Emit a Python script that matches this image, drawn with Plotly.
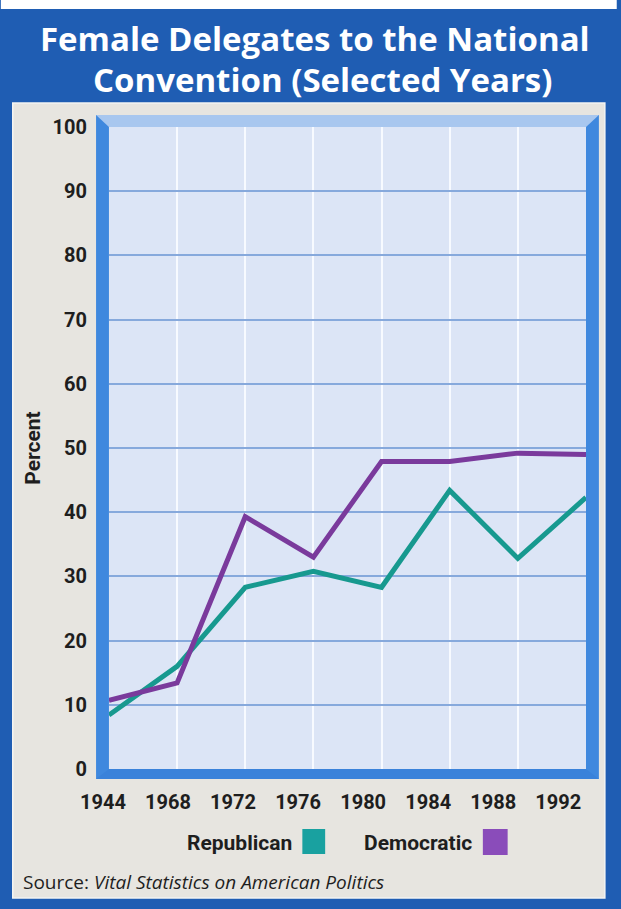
import plotly.graph_objects as go

years = ["1944", "1968", "1972", "1976", "1980", "1984", "1988", "1992"]
republican = [8.4, 16.0, 28.3, 30.8, 28.3, 43.4, 32.8, 42.3]
democratic = [10.7, 13.4, 39.3, 33.0, 47.9, 47.9, 49.2, 49.0]
y_ticks = list(range(0, 101, 10))

W, H = 621, 909
L, R, T, B = 103, 590, 127, 769  # paper area in pixels


def px(x):
    return (x - L) / (R - L)


def py(y):
    return (B - y) / (B - T)


FRAME = "#1f5db3"
PANEL = "#e7e5e0"
TEAL = "#17998f"
PURPLE = "#7a3a9c"
LABEL_FONT = "Roboto, Liberation Sans, sans-serif"
DARK = "#1e1e1e"

xi = list(range(len(years)))

fig = go.Figure()
fig.add_trace(go.Scatter(x=xi, y=republican, mode="lines", name="Republican",
                         line=dict(color=TEAL, width=5), showlegend=False))
fig.add_trace(go.Scatter(x=xi, y=democratic, mode="lines", name="Democratic",
                         line=dict(color=PURPLE, width=5), showlegend=False))
# invisible helper trace that carries the year-label axis
fig.add_trace(go.Scatter(x=xi, y=republican, xaxis="x2", yaxis="y2", mode="lines",
                         line=dict(width=0, color="rgba(0,0,0,0)"), hoverinfo="skip",
                         showlegend=False))

shapes = []
shapes.append(dict(type="rect", xref="paper", yref="paper", x0=px(0), x1=px(W), y0=py(0), y1=py(9),
                   fillcolor="#ffffff", line=dict(width=0), layer="below"))
shapes.append(dict(type="rect", xref="paper", yref="paper", x0=px(12), x1=px(609), y0=py(103), y1=py(898),
                   fillcolor=PANEL, line=dict(color="#f4f4f2", width=1.5), layer="below"))
shapes.append(dict(type="rect", xref="paper", yref="paper", x0=px(96), x1=px(603), y0=py(115), y1=py(779),
                   fillcolor="#3f88de", line=dict(width=0), layer="below"))


def path(pts):
    return "M " + " L ".join(f"{px(a)},{py(b)}" for a, b in pts) + " Z"


shapes.append(dict(type="path", xref="paper", yref="paper",
                   path=path([(96, 115), (603, 115), (590, 127), (109, 127)]),
                   fillcolor="#a8c7ef", line=dict(width=0), layer="below"))
shapes.append(dict(type="path", xref="paper", yref="paper",
                   path=path([(96, 779), (603, 779), (590, 769), (109, 769)]),
                   fillcolor="#3a82da", line=dict(width=0), layer="below"))
shapes.append(dict(type="rect", xref="paper", yref="paper", x0=px(109), x1=px(590), y0=py(127), y1=py(769),
                   fillcolor="#dce5f6", line=dict(width=0), layer="below"))
# legend squares
shapes.append(dict(type="rect", xref="paper", yref="paper", x0=px(304), x1=px(327), y0=py(829), y1=py(854),
                   fillcolor="#19a1a0", line=dict(width=0)))
shapes.append(dict(type="rect", xref="paper", yref="paper", x0=px(486), x1=px(511), y0=py(829), y1=py(855),
                   fillcolor="#8a4cba", line=dict(width=0)))

TITLE_FONT = dict(family="Open Sans, sans-serif", size=33, color="#ffffff", weight="bold")
annotations = [
    dict(text="Female Delegates to the National", xref="paper", yref="paper", x=px(317), y=py(39),
         xanchor="center", yanchor="middle", showarrow=False, font=TITLE_FONT),
    dict(text="Convention (Selected Years)", xref="paper", yref="paper", x=px(324), y=py(79),
         xanchor="center", yanchor="middle", showarrow=False, font=TITLE_FONT),
    dict(text="Republican", xref="paper", yref="paper", x=px(296), y=py(843), xanchor="right",
         yanchor="middle", showarrow=False, font=dict(family=LABEL_FONT, size=21, color=DARK, weight="bold")),
    dict(text="Democratic", xref="paper", yref="paper", x=px(477), y=py(843), xanchor="right",
         yanchor="middle", showarrow=False, font=dict(family=LABEL_FONT, size=21, color=DARK, weight="bold")),
    dict(text="Source: <i>Vital Statistics on American Politics</i>", xref="paper", yref="paper",
         x=px(20), y=py(882), xanchor="left", yanchor="middle", showarrow=False,
         font=dict(family="Open Sans, sans-serif", size=19, color=DARK)),
]

fig.update_layout(
    width=W, height=H,
    margin=dict(l=L, r=W - R, t=T, b=H - B, pad=0),
    paper_bgcolor=FRAME,
    plot_bgcolor="rgba(0,0,0,0)",
    xaxis=dict(domain=[px(109), 1], range=[0, len(years) - 1], showticklabels=False,
               tickvals=xi, showgrid=True, gridcolor="#f7faff", gridwidth=2.2,
               zeroline=False, showline=False, ticks=""),
    yaxis=dict(range=[0, 100], tickvals=y_ticks, showgrid=True, gridcolor="#86a9dc", gridwidth=1.5,
               zeroline=False, showline=False, ticks="outside", ticklen=17, tickcolor="rgba(0,0,0,0)",
               tickfont=dict(family=LABEL_FONT, size=20, color=DARK, weight="bold"),
               title=dict(text="Percent", standoff=6,
                          font=dict(family=LABEL_FONT, size=21, color=DARK, weight="bold"))),
    xaxis2=dict(domain=[0, px(562)], range=[0, len(years) - 1], anchor="y2",
                tickvals=xi, ticktext=years, showgrid=False, zeroline=False,
                showline=False, ticks="outside", ticklen=15, tickcolor="rgba(0,0,0,0)",
                tickfont=dict(family=LABEL_FONT, size=20, color=DARK, weight="bold")),
    yaxis2=dict(domain=[0, 1], range=[0, 100], anchor="x2", showgrid=False, zeroline=False,
                showline=False, showticklabels=False, ticks=""),
    shapes=shapes,
    annotations=annotations,
    showlegend=False,
)

fig.write_html("out.html", config={"displayModeBar": False},
               post_script="document.body.style.margin='0';document.body.style.overflow='hidden';")
